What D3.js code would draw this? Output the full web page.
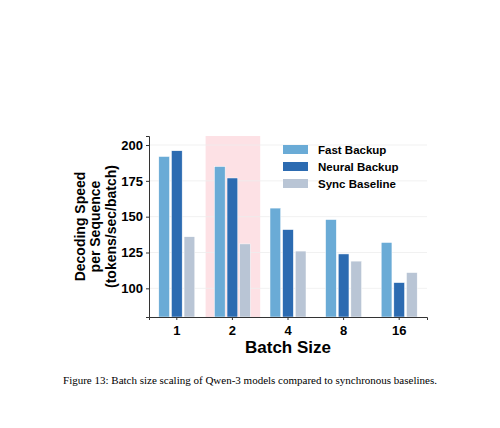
<html><head>
<meta charset="utf-8">
<script src="https://d3js.org/d3.v7.min.js"></script>
<style>
  body { margin: 0; background: #fff; }
</style>
</head>
<body>
<div id="chart"></div>
<script>
// data
var batchSizes = ["1", "2", "4", "8", "16"];
var seriesNames = ["Fast Backup", "Neural Backup", "Sync Baseline"];
var fastBackup = [192, 185, 156, 148, 132];
var neuralBackup = [196, 177, 141, 124, 104];
var syncBaseline = [136, 131, 126, 119, 111];
var yTicks = [100, 125, 150, 175, 200];
var highlighted = "2";

var colors = ["#6aabd6", "#2c6bb1", "#b9c5d5"];
var series = [fastBackup, neuralBackup, syncBaseline];

var svg = d3.select("#chart").append("svg")
    .attr("width", 500).attr("height", 428);

var plotLeft = 149, plotRight = 427, plotTop = 136, plotBottom = 317;

var x = d3.scaleBand().domain(batchSizes).range([plotLeft, plotRight]).padding(0);
var xs = d3.scaleBand().domain(d3.range(3)).range([0, 36]).paddingInner(0.15);
var y = d3.scaleLinear().domain([80, 206.3]).range([plotBottom, plotTop]);

// highlight column
svg.append("rect")
    .attr("x", x(highlighted) + 1).attr("width", x.bandwidth() - 1)
    .attr("y", plotTop).attr("height", plotBottom - plotTop)
    .attr("fill", "#fde1e5");

// gridlines
svg.selectAll(".grid").data(yTicks).enter().append("line")
    .attr("x1", plotLeft).attr("x2", plotRight)
    .attr("y1", function(d) { return y(d); }).attr("y2", function(d) { return y(d); })
    .attr("stroke", "#eeeeee").attr("stroke-width", 0.8);

// bars
series.forEach(function(vals, i) {
  svg.selectAll(".bar" + i).data(vals).enter().append("rect")
      .attr("x", function(d, j) { return x(batchSizes[j]) + x.bandwidth() / 2 - 18 + xs(i); })
      .attr("width", xs.bandwidth())
      .attr("y", function(d) { return y(d); })
      .attr("height", function(d) { return plotBottom - y(d); })
      .attr("fill", colors[i])
      .attr("stroke", "#ffffff").attr("stroke-width", 0.5);
});

// axes
var xAxis = svg.append("g").attr("transform", "translate(0," + plotBottom + ")")
    .call(d3.axisBottom(x).tickSize(3));
var yAxis = svg.append("g").attr("transform", "translate(" + plotLeft + ",0)")
    .call(d3.axisLeft(y).tickValues(yTicks).tickSize(3));
[xAxis, yAxis].forEach(function(a) {
  a.selectAll("path, line").attr("stroke", "#333");
  a.selectAll("text").style("font-family", "Liberation Sans, Arial, sans-serif")
      .style("font-size", "13px").style("font-weight", "bold").attr("fill", "#000");
});
xAxis.selectAll("text").attr("dy", "0.9em");

// axis titles
svg.append("text").attr("x", (plotLeft + plotRight) / 2).attr("y", 353)
    .attr("text-anchor", "middle")
    .style("font-family", "Liberation Sans, Arial, sans-serif")
    .style("font-size", "17px").style("font-weight", "bold")
    .text("Batch Size");

var yTitle = svg.append("text")
    .attr("transform", "translate(98," + ((plotTop + plotBottom) / 2) + ") rotate(-90)")
    .attr("text-anchor", "middle")
    .style("font-family", "Liberation Sans, Arial, sans-serif")
    .style("font-size", "14px").style("font-weight", "bold");
["Decoding Speed", "per Sequence", "(tokens/sec/batch)"].forEach(function(t, i) {
  yTitle.append("tspan").attr("x", 0).attr("dy", i === 0 ? "-0.95em" : "1.12em").text(t);
});

// legend
var legend = svg.append("g").attr("transform", "translate(283,146)");
seriesNames.forEach(function(name, i) {
  var g = legend.append("g").attr("transform", "translate(0," + (i * 17) + ")");
  g.append("rect").attr("width", 25).attr("height", 9).attr("y", -1).attr("fill", colors[i]);
  g.append("text").attr("x", 35).attr("y", 8)
      .style("font-family", "Liberation Sans, Arial, sans-serif")
      .style("font-size", "11.5px").style("font-weight", "bold")
      .text(name);
});

// caption
svg.append("text").attr("x", 250).attr("y", 384).attr("text-anchor", "middle")
    .style("font-family", "Liberation Serif, Times New Roman, serif")
    .style("font-size", "11px")
    .text("Figure 13: Batch size scaling of Qwen-3 models compared to synchronous baselines.");
</script>
</body></html>
